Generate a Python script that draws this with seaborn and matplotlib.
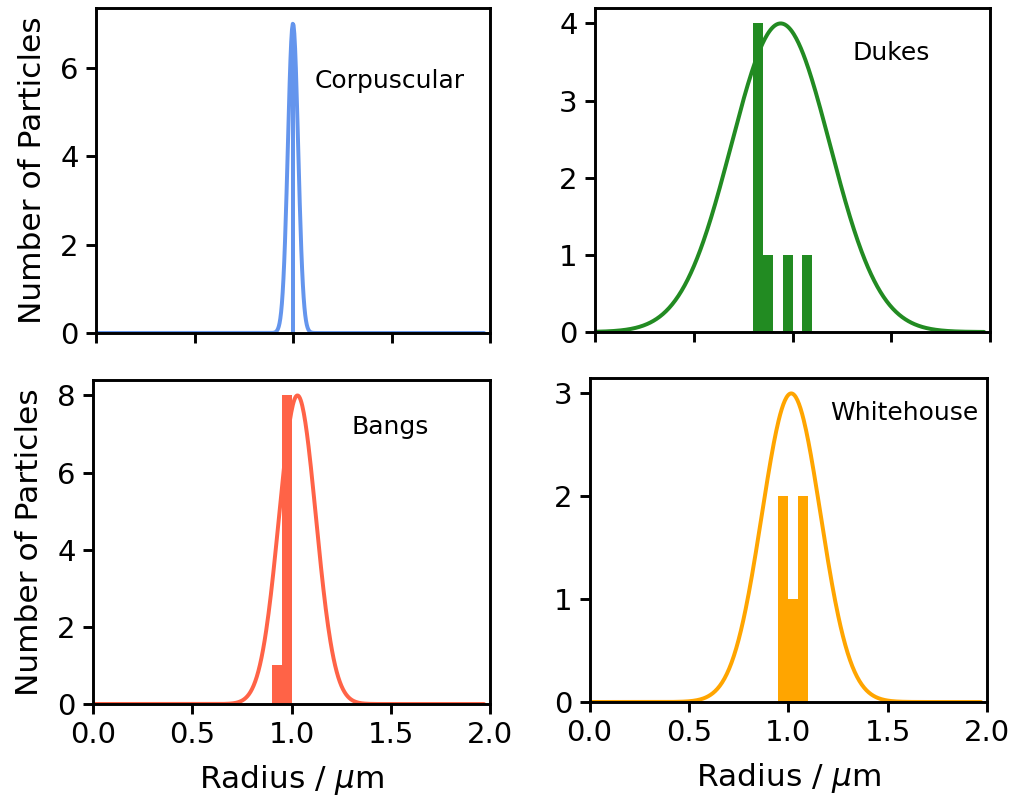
"""Particle radius distributions for four smoke sources."""

import matplotlib

matplotlib.use("Agg")

import matplotlib.pyplot as plt
import numpy as np
import pandas as pd
import seaborn as sns

# panel names and colours
sources = ["Corpuscular", "Dukes", "Bangs", "Whitehouse"]
colours = ["cornflowerblue", "forestgreen", "tomato", "orange"]

# measured histograms (bin edges in um, particle counts per bin)
corpuscular_edges = [0.99, 1.01]
corpuscular_counts = [7]
dukes_edges = [0.80, 0.85, 0.90, 0.95, 1.00, 1.05, 1.10]
dukes_counts = [4, 1, 0, 1, 0, 1]
bangs_edges = [0.90, 0.95, 1.00]
bangs_counts = [1, 8]
whitehouse_edges = [0.95, 1.00, 1.05, 1.10]
whitehouse_counts = [2, 1, 2]

# fitted gaussian: centre, width, peak height
fit_centre = [1.00, 0.94, 1.03, 1.015]
fit_sigma = [0.026, 0.25, 0.093, 0.148]
fit_peak = [7, 4, 8, 3]

# where the source name sits (axes fraction)
label_x = [0.556, 0.653, 0.652, 0.606]
label_y = [0.775, 0.861, 0.856, 0.892]

edges_all = [corpuscular_edges, dukes_edges, bangs_edges, whitehouse_edges]
counts_all = [corpuscular_counts, dukes_counts, bangs_counts, whitehouse_counts]

sns.set_theme(style="ticks")
plt.rcParams.update({
    "font.family": ["DejaVu Sans"],
    "axes.edgecolor": "black",
    "axes.linewidth": 1.4,
    "xtick.color": "black",
    "ytick.color": "black",
    "xtick.major.size": 4.8,
    "ytick.major.size": 4.8,
    "xtick.major.width": 1.4,
    "ytick.major.width": 1.4,
    "xtick.labelsize": 14,
    "ytick.labelsize": 14,
    "axes.labelsize": 15,
    "axes.labelpad": 6.5,
    "text.color": "black",
    "axes.labelcolor": "black",
})

fig = plt.figure(figsize=(1016 / 150, 803 / 150), dpi=150)
W, H = 1016, 803
rects = [
    (96, 8, 490, 333),
    (595, 8, 990, 332),
    (93, 380, 490, 704),
    (589.5, 378, 987, 702),
]

radius = np.linspace(0, 1.97, 500)

for i, name in enumerate(sources):
    x0, y0, x1, y1 = rects[i]
    ax = fig.add_axes([x0 / W, (H - y1) / H, (x1 - x0) / W, (y1 - y0) / H])

    edges = list(edges_all[i])
    hist_df = pd.DataFrame({
        "radius": [(a + b) / 2 for a, b in zip(edges[:-1], edges[1:])],
        "count": counts_all[i],
    })
    sns.histplot(data=hist_df, x="radius", weights="count", bins=edges,
                 color=colours[i], alpha=1, linewidth=0, ax=ax)

    curve = fit_peak[i] * np.exp(-((radius - fit_centre[i]) ** 2) / (2 * fit_sigma[i] ** 2))
    sns.lineplot(x=radius, y=curve, color=colours[i], linewidth=1.9, ax=ax)

    ax.set_xlim(0, 2)
    ax.set_ylim(bottom=0)
    ax.set_xticks([0, 0.5, 1.0, 1.5, 2.0])
    ax.text(label_x[i], label_y[i], name, transform=ax.transAxes,
            ha="left", va="center", fontsize=12)

    if i < 2:
        ax.set_xticklabels([])
        ax.set_xlabel("")
    else:
        ax.set_xticklabels(["0.0", "0.5", "1.0", "1.5", "2.0"])
        ax.set_xlabel(r"Radius / $\mu$m")
    if i % 2 == 0:
        ax.set_ylabel("Number of Particles")
    else:
        ax.set_ylabel("")

fig.savefig("out.png", dpi=150)
